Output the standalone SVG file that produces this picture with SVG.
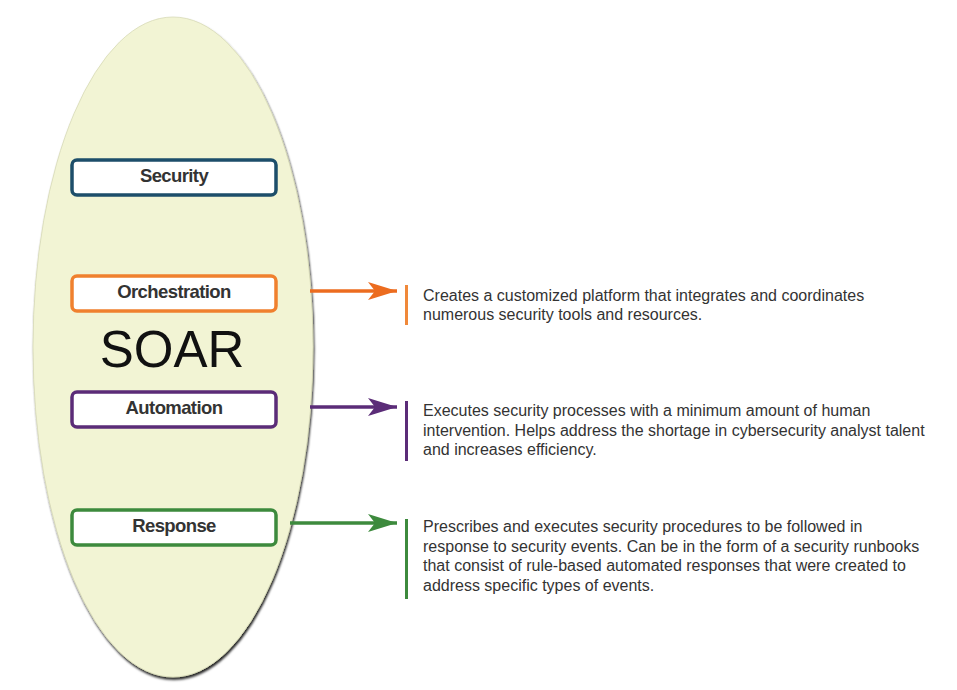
<svg xmlns="http://www.w3.org/2000/svg" width="957" height="690" viewBox="0 0 957 690">
<defs>
<filter id="sh" x="-10%" y="-10%" width="120%" height="120%">
<feDropShadow dx="1" dy="2.5" stdDeviation="1.2" flood-color="#000" flood-opacity="0.85"/>
</filter>
<marker id="aO" viewBox="0 0 29 18" refX="29" refY="9" markerWidth="29" markerHeight="18" markerUnits="userSpaceOnUse" orient="auto"><path d="M0,0 L29,9 L0,18 L7,9 Z" fill="#ec6c1f"/></marker>
<marker id="aA" viewBox="0 0 29 18" refX="29" refY="9" markerWidth="29" markerHeight="18" markerUnits="userSpaceOnUse" orient="auto"><path d="M0,0 L29,9 L0,18 L7,9 Z" fill="#5b2c78"/></marker>
<marker id="aR" viewBox="0 0 29 18" refX="29" refY="9" markerWidth="29" markerHeight="18" markerUnits="userSpaceOnUse" orient="auto"><path d="M0,0 L29,9 L0,18 L7,9 Z" fill="#3d8a3d"/></marker>
</defs>
<style>
.box{fill:#fff;stroke-width:3.5}
.lbl{font-family:"Liberation Sans",Arial,sans-serif;font-weight:bold;font-size:18.5px;fill:#333;text-anchor:middle;letter-spacing:-0.6px}
.desc{font-family:"Liberation Sans",Arial,sans-serif;font-size:16px;fill:#333}
.ln{stroke-width:3.5;fill:none}
</style>
<rect width="957" height="690" fill="#fff"/>
<g id="soar">
<ellipse cx="173" cy="347" rx="140" ry="330" fill="#f2f4d4" stroke="#d8dbb8" stroke-width="0.8" filter="url(#sh)"/>
<text x="172" y="367" font-family="Liberation Sans,Arial,sans-serif" font-size="51" fill="#111" text-anchor="middle">SOAR</text>
</g>
<g id="security">
<rect class="box" x="72" y="160" width="204" height="35" rx="5" stroke="#1d4e6a"/>
<text class="lbl" x="174" y="182">Security</text>
</g>
<g id="orchestration">
<rect class="box" x="72" y="276" width="204" height="35" rx="5" stroke="#f0802e"/>
<text class="lbl" x="174" y="298">Orchestration</text>
</g>
<g id="automation">
<rect class="box" x="72" y="392" width="204" height="35" rx="5" stroke="#5b2c78"/>
<text class="lbl" x="174" y="414">Automation</text>
</g>
<g id="response">
<rect class="box" x="72" y="510" width="204" height="35" rx="5" stroke="#3d8a3d"/>
<text class="lbl" x="174" y="532">Response</text>
</g>
<g id="connectors">
<line class="ln" x1="310" y1="291" x2="397" y2="291" stroke="#ec6c1f" marker-end="url(#aO)"/>
<line class="ln" x1="310" y1="407" x2="397" y2="407" stroke="#5b2c78" marker-end="url(#aA)"/>
<line class="ln" x1="290" y1="523" x2="397" y2="523" stroke="#3d8a3d" marker-end="url(#aR)"/>
</g>
<g id="desc-orchestration">
<rect x="405" y="285" width="3" height="40" fill="#f0893a"/>
<text class="desc" x="423" y="301">Creates a customized platform that integrates and coordinates</text>
<text class="desc" x="423" y="320">numerous security tools and resources.</text>
</g>
<g id="desc-automation">
<rect x="405" y="401" width="3" height="60" fill="#5b2c78"/>
<text class="desc" x="423" y="416">Executes security processes with a minimum amount of human</text>
<text class="desc" x="423" y="436">intervention. Helps address the shortage in cybersecurity analyst talent</text>
<text class="desc" x="423" y="455">and increases efficiency.</text>
</g>
<g id="desc-response">
<rect x="405" y="519" width="3" height="80" fill="#3d8a3d"/>
<text class="desc" x="423" y="532">Prescribes and executes security procedures to be followed in</text>
<text class="desc" x="423" y="552">response to security events. Can be in the form of a security runbooks</text>
<text class="desc" x="423" y="571">that consist of rule-based automated responses that were created to</text>
<text class="desc" x="423" y="591">address specific types of events.</text>
</g>
</svg>
